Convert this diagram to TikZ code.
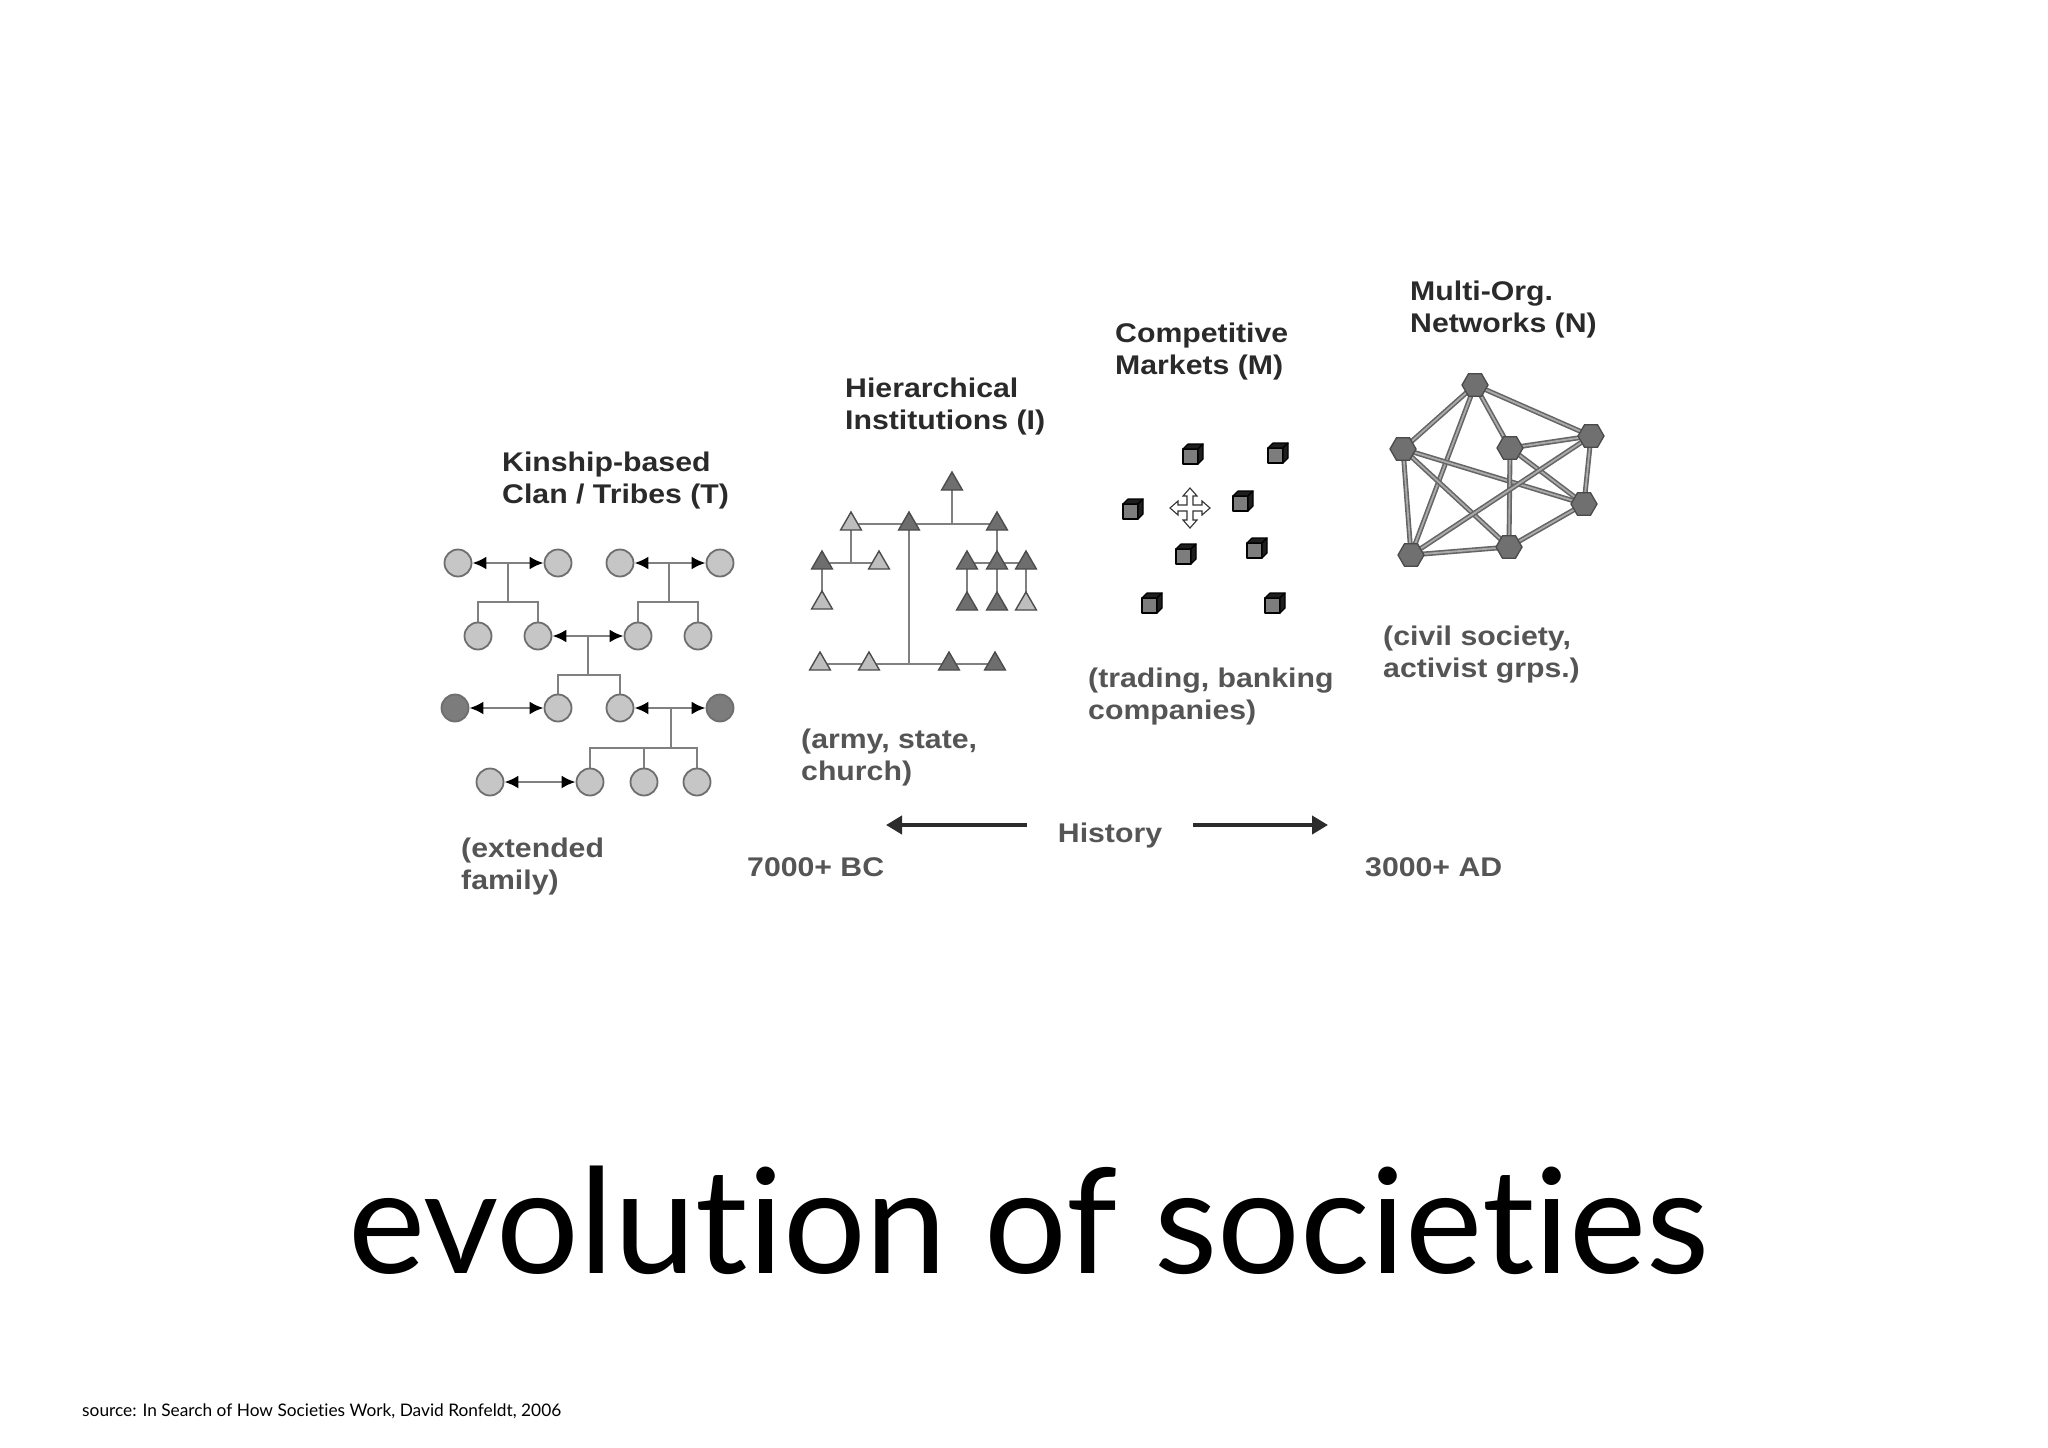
\documentclass[tikz,border=0pt]{standalone}
\usepackage{fontspec}
\setmainfont[Ligatures={NoCommon,NoRare}]{Lato}
\newfontfamily\diagfont[FakeStretch=1.12]{Liberation Sans}
\usetikzlibrary{arrows.meta,shapes.geometric,calc,backgrounds}
\definecolor{kdraw}{HTML}{6E6E6E}
\definecolor{klight}{HTML}{C6C6C6}
\definecolor{kdark}{HTML}{7C7C7C}
\definecolor{lgray}{HTML}{808080}
\definecolor{tdraw}{HTML}{4C4C4C}
\definecolor{tdark}{HTML}{6E6E6E}
\definecolor{tlight}{HTML}{BEBEBE}
\definecolor{hdraw}{HTML}{4A4A4A}
\definecolor{hfill}{HTML}{707070}
\definecolor{edraw}{HTML}{666666}
\definecolor{edouble}{HTML}{ABABAB}
\definecolor{tcol}{HTML}{2A2A2A}
\definecolor{scol}{HTML}{555555}
\definecolor{hcol}{HTML}{2C2C2C}
\definecolor{cfront}{HTML}{7D7D7D}
\definecolor{cdark}{HTML}{1E1E1E}
\tikzset{
  mcube/.pic={
    \filldraw[fill=cfront,draw=black,line width=1.2pt,line join=round] (-10,-4) rectangle (5,11);
    \filldraw[fill=cdark,draw=black,line width=1.2pt,line join=round] (-10,-4) -- (-5,-9) -- (10,-9) -- (5,-4) -- cycle;
    \filldraw[fill=cdark,draw=black,line width=1.2pt,line join=round] (5,-4) -- (10,-9) -- (10,6) -- (5,11) -- cycle;
  },
  mcross/.pic={
    \filldraw[fill=white,draw=black!80,line width=1.1pt,line join=miter]
      (3,-3) -- (12,-3) -- (12,-7) -- (20,0) -- (12,7) -- (12,3) -- (3,3)
      -- (3,12) -- (7,12) -- (0,20) -- (-7,12) -- (-3,12) -- (-3,3)
      -- (-12,3) -- (-12,7) -- (-20,0) -- (-12,-7) -- (-12,-3) -- (-3,-3)
      -- (-3,-12) -- (-7,-12) -- (0,-20) -- (7,-12) -- (3,-12) -- cycle;
  }
}
\begin{document}
\begin{tikzpicture}[x=1pt,y=-1pt,
  kc/.style={circle,draw=kdraw,line width=1.8pt,fill=klight,minimum size=27pt,inner sep=0pt},
  kcd/.style={kc,fill=kdark},
  kl/.style={draw=lgray,line width=2.5pt},
  karr/.style={kl,{Latex[length=14pt,width=13pt,color=black]}-{Latex[length=14pt,width=13pt,color=black]}},
  tri/.style={regular polygon,regular polygon sides=3,draw=tdraw,line width=1.4pt,minimum size=24pt,inner sep=0pt},
  trid/.style={tri,fill=tdark},
  tril/.style={tri,fill=tlight},
  hex/.style={regular polygon,regular polygon sides=6,draw=hdraw,line width=1.3pt,fill=hfill,minimum size=26pt,inner sep=0pt},
  nedge/.style={draw=edraw,line width=1.6pt,double=edouble,double distance=1.8pt},
  ttl/.style={font=\diagfont\bfseries\fontsize{27}{32}\selectfont,text=tcol,align=left,inner sep=0pt,anchor=base west},
  sub/.style={ttl,text=scol},
  harrow/.style={draw=hcol,line width=4pt,-{Triangle[length=16pt,width=18pt]}}
]
\useasboundingbox (0,0) rectangle (2048,1448);
\begin{scope}[on background layer]
  \fill[white] (0,0) rectangle (2048,1448);
\end{scope}

% ---------- Kinship ----------
\node[ttl] (tK) at (502,503) {Kinship-based\\Clan / Tribes (T)};
\node[kc] (k1a) at (458,563) {};
\node[kc] (k1b) at (558,563) {};
\node[kc] (k1c) at (620,563) {};
\node[kc] (k1d) at (720,563) {};
\node[kc] (k2a) at (478,636) {};
\node[kc] (k2b) at (538,636) {};
\node[kc] (k2c) at (638,636) {};
\node[kc] (k2d) at (698,636) {};
\node[kcd] (k3a) at (455,708) {};
\node[kc] (k3b) at (558,708) {};
\node[kc] (k3c) at (620,708) {};
\node[kcd] (k3d) at (720,708) {};
\node[kc] (k4a) at (490,782) {};
\node[kc] (k4b) at (590,782) {};
\node[kc] (k4c) at (644,782) {};
\node[kc] (k4d) at (697,782) {};
\coordinate (kb1) at (508,602);
\coordinate (kb2) at (669,602);
\coordinate (kb3) at (588,675);
\coordinate (kb4) at (671,748);
\begin{scope}[on background layer]
  \draw[kl] (kb1 |- k1a) -- (kb1);
  \draw[kl] (k2a) -- (k2a |- kb1) -- (k2b |- kb1) -- (k2b);
  \draw[kl] (kb2 |- k1c) -- (kb2);
  \draw[kl] (k2c) -- (k2c |- kb2) -- (k2d |- kb2) -- (k2d);
  \draw[kl] (kb3 |- k2b) -- (kb3);
  \draw[kl] (k3b) -- (k3b |- kb3) -- (k3c |- kb3) -- (k3c);
  \draw[kl] (kb4 |- k3c) -- (kb4);
  \draw[kl] (k4b) -- (k4b |- kb4) -- (k4d |- kb4) -- (k4d);
  \draw[kl] (k4c) -- (k4c |- kb4);
\end{scope}
\draw[karr] (k1a) -- (k1b);
\draw[karr] (k1c) -- (k1d);
\draw[karr] (k2b) -- (k2c);
\draw[karr] (k3a) -- (k3b);
\draw[karr] (k3c) -- (k3d);
\draw[karr] (k4a) -- (k4b);
\node[sub] (sK) at (461,889) {(extended\\family)};

% ---------- Hierarchical ----------
\node[ttl] (tH) at (845,429) {Hierarchical\\Institutions (I)};
\node[trid] (h0) at (952,484) {};
\node[tril] (hA1) at (851,524) {};
\node[trid] (hA2) at (909,524) {};
\node[trid] (hA3) at (997,524) {};
\node[trid] (hB1) at (822,563) {};
\node[tril] (hB2) at (879,563) {};
\node[tril] (hC1) at (822,603) {};
\node[tril] (hD1) at (820,664) {};
\node[tril] (hD2) at (869,664) {};
\node[trid] (hD3) at (949,664) {};
\node[trid] (hD4) at (995,664) {};
\node[trid] (hE1) at (967,563) {};
\node[trid] (hE2) at (997,563) {};
\node[trid] (hE3) at (1026,563) {};
\node[trid] (hF1) at (967,604) {};
\node[trid] (hF2) at (997,604) {};
\node[tril] (hF3) at (1026,604) {};
\begin{scope}[on background layer]
  \draw[kl] (h0.center) -- (h0 |- hA1.center);
  \draw[kl] (hA1.center) -- (hA3.center);
  \draw[kl] (hA1.center) -- (hA1 |- hB1.center);
  \draw[kl] (hB1.center) -- (hB2.center);
  \draw[kl] (hB1.center) -- (hC1.center);
  \draw[kl] (hA2.center) -- (hA2 |- hD1.center);
  \draw[kl] (hD1.center) -- (hD4.center);
  \draw[kl] (hA3.center) -- (hE2.center);
  \draw[kl] (hE1.center) -- (hE3.center);
  \draw[kl] (hE1.center) -- (hF1.center);
  \draw[kl] (hE2.center) -- (hF2.center);
  \draw[kl] (hE3.center) -- (hF3.center);
\end{scope}
\node[sub] (sH) at (801,780) {(army, state,\\church)};

% ---------- Markets ----------
\node[ttl] (tM) at (1115,374) {Competitive\\Markets (M)};
\pic at (1193,453) {mcube};
\pic at (1278,452) {mcube};
\pic at (1133,508) {mcube};
\pic at (1243,500) {mcube};
\pic at (1186,553) {mcube};
\pic at (1257,547) {mcube};
\pic at (1152,602) {mcube};
\pic at (1275,602) {mcube};
\pic at (1190,508) {mcross};
\node[sub] (sM) at (1088,719) {(trading, banking\\companies)};

% ---------- Networks ----------
\node[ttl] (tN) at (1410,332) {Multi-Org.\\Networks (N)};
\node[hex] (n1) at (1475,385) {};
\node[hex] (n2) at (1403,449) {};
\node[hex] (n3) at (1510,448) {};
\node[hex] (n4) at (1591,436) {};
\node[hex] (n5) at (1584,504) {};
\node[hex] (n6) at (1509,547) {};
\node[hex] (n7) at (1411,555) {};
\begin{scope}[on background layer]
  \foreach \a/\b in {n1/n2,n1/n3,n1/n4,n1/n7,n2/n7,n2/n6,n2/n5,n3/n4,n3/n5,n3/n6,n4/n5,n4/n7,n5/n6,n6/n7}
    \draw[nedge] (\a.center) -- (\b.center);
\end{scope}
\node[sub] (sN) at (1383,677) {(civil society,\\activist grps.)};

% ---------- History ----------
\node[sub,anchor=base,inner xsep=31pt] (hist) at (1110,842) {History};
\coordinate (hl) at (886,825);
\coordinate (hr) at (1328,825);
\draw[harrow] (hist.west |- hl) -- (hl);
\draw[harrow] (hist.east |- hr) -- (hr);
\node[sub] (bc) at (747,876) {7000+ BC};
\node[sub] (ad) at (1365,876) {3000+ AD};

% ---------- Title & source ----------
\node[anchor=base west,inner sep=0pt,font=\fontsize{146}{170}\selectfont] (title) at (348,1273) {evolution of societies};
\node[anchor=base west,inner sep=0pt,font=\fontsize{17.3}{20}\selectfont] (src) at (82,1416) {source: In Search of How Societies Work, David Ronfeldt, 2006};
\end{tikzpicture}
\end{document}
